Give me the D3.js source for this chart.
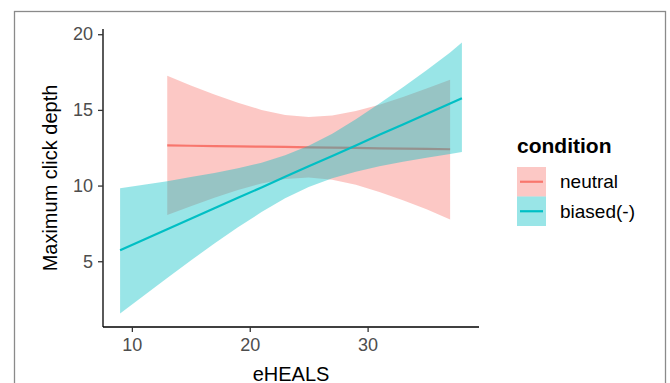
<!DOCTYPE html>
<html>
<head>
<meta charset="utf-8">
<script src="https://cdn.jsdelivr.net/npm/d3@7"></script>
<style>
  body { margin: 0; background: #fff; }
  text { font-family: "Liberation Sans", Arial, sans-serif; }
</style>
</head>
<body>
<div id="chart"></div>
<script>
// fitted lines + confidence bands
var conditions = ["neutral", "biased(-)"];
var colors = ["#F8766D", "#00BFC4"];

var neutralX = [13, 15, 17, 19, 21, 23, 25, 27, 29, 31, 33, 35, 37];
var neutralFit = [12.65, 12.63, 12.61, 12.59, 12.57, 12.55, 12.53, 12.51, 12.49, 12.46, 12.44, 12.42, 12.40];
var neutralUpper = [17.25, 16.62, 16.02, 15.47, 15.00, 14.67, 14.53, 14.63, 14.92, 15.34, 15.85, 16.41, 17.00];
var neutralLower = [8.05, 8.64, 9.20, 9.71, 10.14, 10.43, 10.53, 10.39, 10.06, 9.58, 9.03, 8.43, 7.75];

var biasedX = [9, 11, 13, 15, 17, 19, 21, 23, 25, 27, 29, 31, 33, 35, 37, 38];
var biasedFit = [5.73, 6.42, 7.11, 7.81, 8.50, 9.19, 9.88, 10.58, 11.27, 11.96, 12.65, 13.35, 14.04, 14.73, 15.42, 15.77];
var biasedUpper = [9.83, 10.06, 10.29, 10.56, 10.83, 11.14, 11.51, 12.00, 12.63, 13.43, 14.38, 15.42, 16.50, 17.62, 18.80, 19.45];
var biasedLower = [1.55, 2.72, 3.90, 5.05, 6.17, 7.24, 8.25, 9.16, 9.91, 10.49, 10.92, 11.28, 11.58, 11.84, 12.09, 12.21];

var xTicks = [10, 20, 30];
var yTicks = [5, 10, 15, 20];

var width = 670, height = 383;
var margin = { left: 103, right: 191, top: 29, bottom: 56 };

function toRows(xs, fit, up, lo) {
    var rows = [];
    for (var i = 0; i < xs.length; i++) {
        rows.push({ x: xs[i], y: fit[i], ymax: up[i], ymin: lo[i] });
    }
    return rows;
}

var groups = [
    { name: conditions[0], color: colors[0], rows: toRows(neutralX, neutralFit, neutralUpper, neutralLower) },
    { name: conditions[1], color: colors[1], rows: toRows(biasedX, biasedFit, biasedUpper, biasedLower) }
];

// ggplot style 5% expansion
function expand(ext) {
    var pad = (ext[1] - ext[0]) * 0.05;
    return [ext[0] - pad, ext[1] + pad];
}
var allX = neutralX.concat(biasedX);
var allY = neutralUpper.concat(neutralLower, biasedUpper, biasedLower);

var x = d3.scaleLinear()
    .domain(expand(d3.extent(allX)))
    .range([margin.left, width - margin.right]);
var y = d3.scaleLinear()
    .domain(expand(d3.extent(allY)))
    .range([height - margin.bottom, margin.top]);

var svg = d3.select("#chart")
    .append("svg")
    .attr("width", width)
    .attr("height", height);

svg.append("rect")
    .attr("width", width)
    .attr("height", height)
    .attr("fill", "#fff");

// outer frame of the figure (bottom edge is cropped)
svg.append("rect")
    .attr("x", 14.5)
    .attr("y", 11.5)
    .attr("width", 651)
    .attr("height", 420)
    .attr("fill", "none")
    .attr("stroke", "#8a8a8a")
    .attr("stroke-width", 1.3);

var area = d3.area()
    .x(function (d) { return x(d.x); })
    .y0(function (d) { return y(d.ymin); })
    .y1(function (d) { return y(d.ymax); });

var line = d3.line()
    .x(function (d) { return x(d.x); })
    .y(function (d) { return y(d.y); });

groups.forEach(function (g) {
    svg.append("path")
        .attr("d", area(g.rows))
        .attr("fill", g.color)
        .attr("fill-opacity", 0.4);
    svg.append("path")
        .attr("d", line(g.rows))
        .attr("fill", "none")
        .attr("stroke", g.color)
        .attr("stroke-width", 2.2);
});

// axes
var xAxis = svg.append("g")
    .attr("transform", "translate(0," + (height - margin.bottom) + ")")
    .call(d3.axisBottom(x).tickValues(xTicks).tickSize(5).tickPadding(6).tickFormat(d3.format("d")));
var yAxis = svg.append("g")
    .attr("transform", "translate(" + margin.left + ",0)")
    .call(d3.axisLeft(y).tickValues(yTicks).tickSize(5).tickPadding(5).tickFormat(d3.format("d")));

[xAxis, yAxis].forEach(function (a) {
    a.select(".domain")
        .attr("stroke", "#000")
        .attr("stroke-width", 1.3)
        .attr("d", null);
    a.selectAll(".tick line").attr("stroke", "#333").attr("stroke-width", 1.3);
    a.selectAll(".tick text")
        .attr("fill", "#4d4d4d")
        .style("font-size", "18px");
});
// plain axis lines without the end caps
xAxis.select(".domain").attr("d", "M" + margin.left + ",0H" + (width - margin.right));
yAxis.select(".domain").attr("d", "M0," + margin.top + "V" + (height - margin.bottom));

svg.append("text")
    .attr("x", (margin.left + width - margin.right) / 2)
    .attr("y", 381)
    .attr("text-anchor", "middle")
    .style("font-size", "20px")
    .attr("fill", "#000")
    .text("eHEALS");

svg.append("text")
    .attr("transform", "translate(57," + ((margin.top + height - margin.bottom) / 2) + ") rotate(-90)")
    .attr("text-anchor", "middle")
    .style("font-size", "20px")
    .attr("fill", "#000")
    .text("Maximum click depth");

// legend
var legend = svg.append("g").attr("transform", "translate(517,0)");
legend.append("text")
    .attr("x", 0)
    .attr("y", 153)
    .style("font-size", "21px")
    .style("font-weight", "bold")
    .attr("fill", "#000")
    .text("condition");

var key = legend.selectAll(".key")
    .data(groups)
    .enter().append("g")
    .attr("class", "key")
    .attr("transform", function (d, i) { return "translate(0," + (167 + i * 29.5) + ")"; });

key.append("rect")
    .attr("width", 29)
    .attr("height", 29.5)
    .attr("fill", function (d) { return d.color; })
    .attr("fill-opacity", 0.4);
key.append("line")
    .attr("x1", 3)
    .attr("x2", 26)
    .attr("y1", 14.75)
    .attr("y2", 14.75)
    .attr("stroke", function (d) { return d.color; })
    .attr("stroke-width", 2.2);
key.append("text")
    .attr("x", 43)
    .attr("y", 21)
    .style("font-size", "19px")
    .attr("fill", "#000")
    .text(function (d) { return d.name; });
</script>
</body>
</html>
